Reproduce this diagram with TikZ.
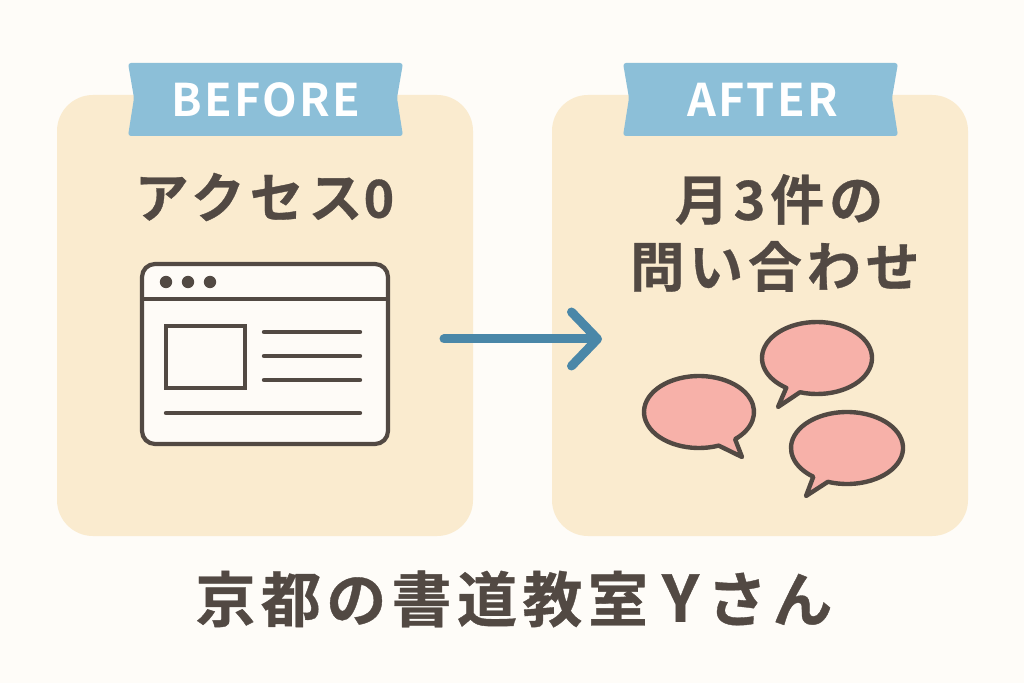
\documentclass[tikz,border=0pt]{standalone}
\usepackage{fontspec}
\newfontfamily\cjkwide{Noto Sans CJK JP Bold}[LetterSpace=9,FakeBold=0.6]
\newfontfamily\cjktag{Noto Sans CJK JP Bold}[LetterSpace=5]
\usetikzlibrary{arrows.meta}
\definecolor{pagebg}{HTML}{FEFCF8}
\definecolor{panelbg}{HTML}{FAEBCF}
\definecolor{tagblue}{HTML}{8CBFD8}
\definecolor{inkbrown}{HTML}{524943}
\definecolor{arrowblue}{HTML}{4A87A8}
\definecolor{bubblepink}{HTML}{F7B1A9}
\definecolor{windowbg}{HTML}{FEFBF7}
\tikzset{
 panel/.style={fill=panelbg,rounded corners=36pt,minimum width=416pt,minimum height=441pt,inner sep=0pt,outer sep=0pt},
 ribbon/.style={fill=tagblue,rounded corners=3pt},
 tag/.style={text=white,font=\cjktag\fontsize{45}{50}\selectfont},
 heading/.style={text=inkbrown,align=center,font=\cjkwide\fontsize{54}{67}\selectfont},
 caption/.style={text=inkbrown,font=\cjkwide\fontsize{60}{66}\selectfont},
 icon/.style={draw=inkbrown,line width=4.2pt},
 iconline/.style={draw=inkbrown,line width=4.4pt,line cap=round},
 bubble/.style={draw=inkbrown,fill=bubblepink,line width=4.4pt,line join=round},
 flow/.style={draw=arrowblue,line width=9pt,line cap=round,-{Straight Barb[length=26pt,width=54pt,round]}}
}
\begin{document}
\begin{tikzpicture}[x=1pt,y=1pt]
\useasboundingbox[fill=pagebg] (0,0) rectangle (1024,683);
% panels
\node[panel] (before) at (265,367.5) {};
\node[panel] (after) at (760,367.5) {};
% ribbons
\fill[ribbon] (128,620) -- (403,620) -- (397,585) -- (403,547) -- (128,547) -- (134,585) -- cycle;
\fill[ribbon] (623,620) -- (898,620) -- (892,585) -- (898,547) -- (623,547) -- (629,585) -- cycle;
\node[tag] (beforetag) at (265.5,583) {BEFORE};
\node[tag] (aftertag) at (762.5,583) {AFTER};
% headings
\node[heading] (access) at (264.5,486) {アクセス\kern1pt{\fontsize{52}{67}\selectfont 0}};
\node[heading] (inquiry) at (775,450) {\hspace*{8pt}月3件の\\問い合わせ};
% window
\draw[icon,fill=windowbg,rounded corners=13pt] (142,419) rectangle (388,239);
\draw[icon] (142,384) -- (388,384);
\fill[inkbrown] (166,401) circle (6.2);
\fill[inkbrown] (188,401) circle (6.2);
\fill[inkbrown] (210,401) circle (6.2);
\draw[icon] (166,357) rectangle (245,295);
\draw[iconline] (264,351) -- (360,351);
\draw[iconline] (264,327) -- (360,327);
\draw[iconline] (264,303) -- (360,303);
\draw[iconline] (166,270) -- (360,270);
% arrow
\coordinate (flowstart) at (444,344);
\coordinate (flowend) at (602,344);
\draw[flow] (flowstart) -- (flowend);
% bubbles
\draw[bubble] (817,325) ++(252:55 and 36) arc[start angle=252,end angle=596,x radius=55,y radius=36] -- (778,276) -- cycle;
\draw[bubble] (699,271) ++(291:55 and 36) arc[start angle=291,end angle=-49,x radius=55,y radius=36] -- (742,226) -- cycle;
\draw[bubble] (847,235) ++(250:56 and 36) arc[start angle=250,end angle=593,x radius=56,y radius=36] -- (806,187) -- cycle;
% caption
\node[caption] (school) at (514,84) {京都の書道教室\kern14pt{\fontsize{64}{66}\selectfont Y}\kern8pt さん};
\end{tikzpicture}
\end{document}
